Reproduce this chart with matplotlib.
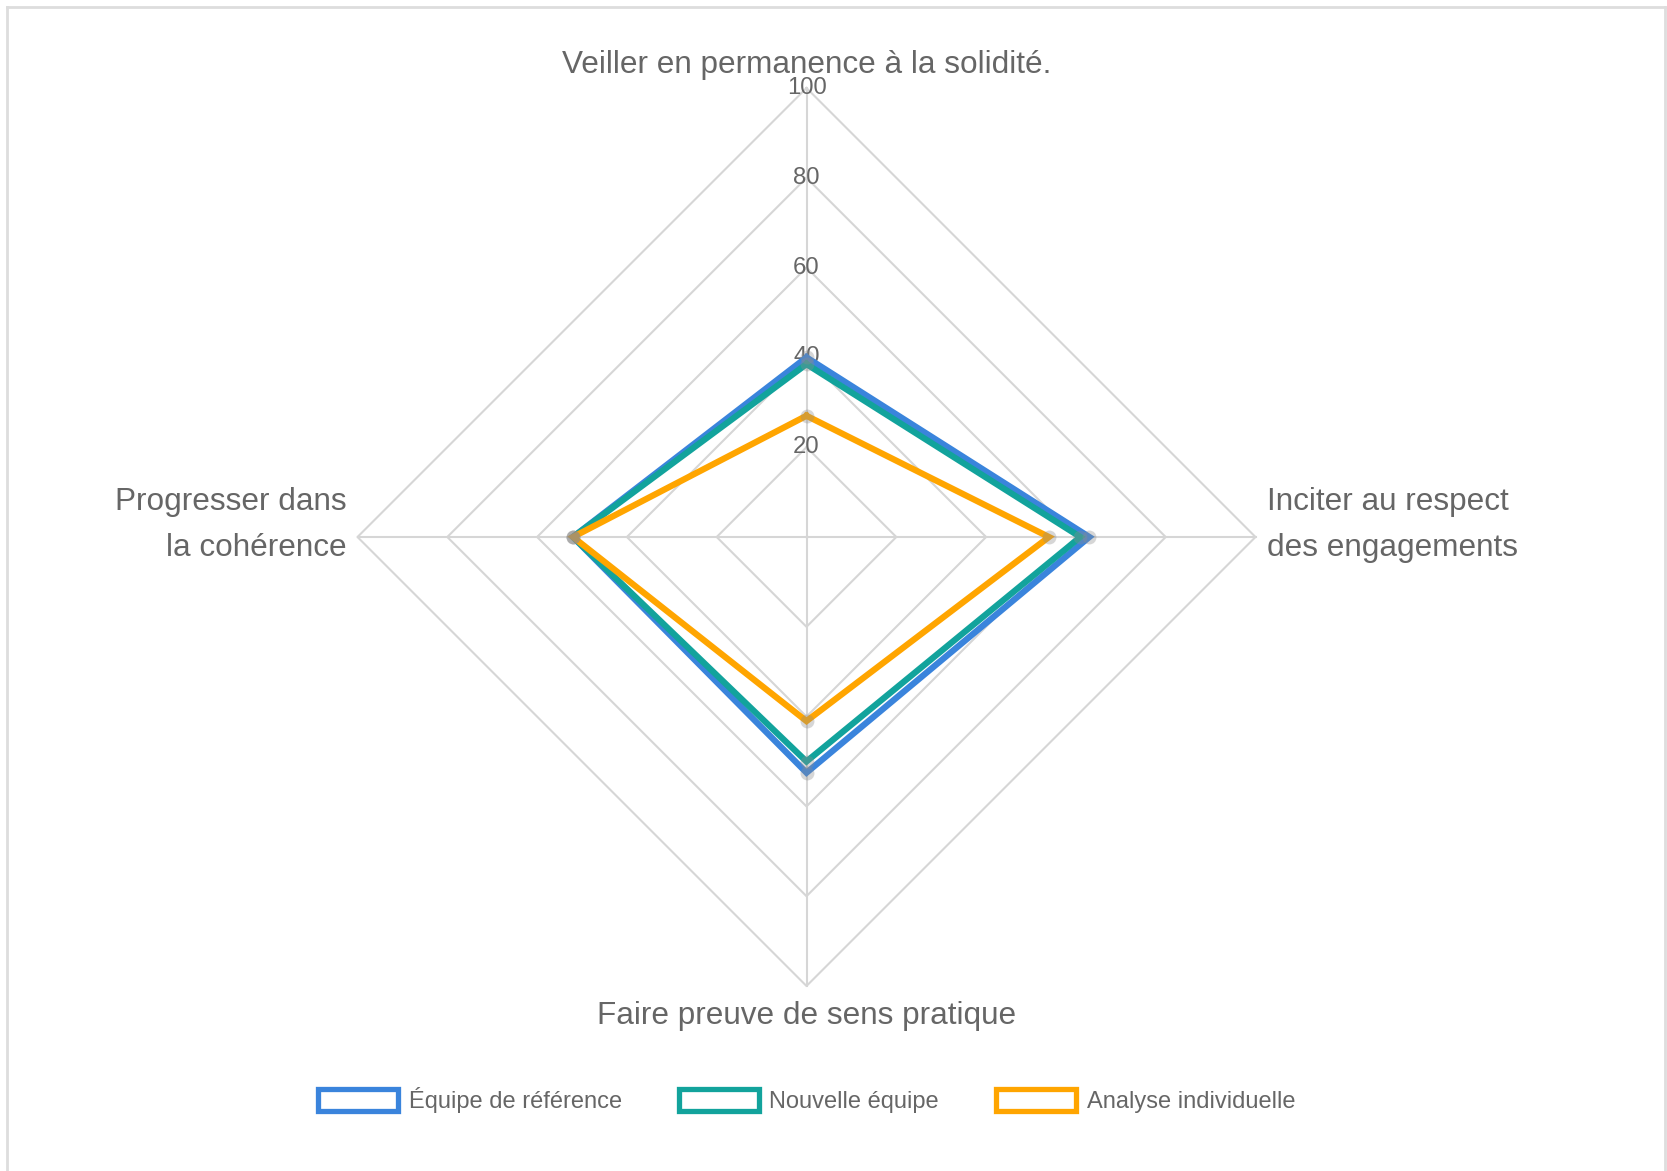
import numpy as np
import matplotlib
matplotlib.use("Agg")
import matplotlib.pyplot as plt
import matplotlib.patches as mpatches
from matplotlib.lines import Line2D

plt.rcParams['font.family'] = ['Liberation Sans', 'DejaVu Sans']

# axes, clockwise from the top
categories = ["Veiller en permanence à la solidité.",
              "Inciter au respect\ndes engagements",
              "Faire preuve de sens pratique",
              "Progresser dans\nla cohérence"]
series_names = ["Équipe de référence", "Nouvelle équipe", "Analyse individuelle"]
reference_team = [40, 63, 52.5, 52]
new_team = [38.5, 61, 50, 52]
individual = [27, 54, 41, 52]
ticks = [20, 40, 60, 80, 100]

colors = ["#3a84dc", "#12a39c", "#ffa500"]
grey_txt = "#666666"
grid_col = "#d6d6d6"

W, H, dpi = 1667, 1171, 100
cx, cy, R = 806.5, 537.0, 449.0  # pixel centre / radius of the 100 ring
k = R / 100.0

fig = plt.figure(figsize=(W / dpi, H / dpi), dpi=dpi)
ax = fig.add_axes([0, 0, 1, 1])
ax.set_xlim(-cx / k, (W - cx) / k)
ax.set_ylim(-(H - cy) / k, cy / k)
ax.axis("off")

angles = np.pi / 2 - np.arange(len(categories)) * 2 * np.pi / len(categories)


def to_xy(vals):
    vals = np.asarray(vals, dtype=float)
    x = vals * np.cos(angles)
    y = vals * np.sin(angles)
    return np.append(x, x[0]), np.append(y, y[0])


# grid rings + spokes
for t in ticks:
    gx, gy = to_xy([t] * len(categories))
    ax.plot(gx, gy, color=grid_col, lw=1.5, zorder=1)
for a in angles:
    ax.plot([0, 100 * np.cos(a)], [0, 100 * np.sin(a)], color=grid_col, lw=1.5, zorder=1)

# tick labels
for t in ticks:
    ax.text(0, t, str(t), ha="center", va="center", fontsize=17.2, color=grey_txt, zorder=2)

# data
for vals, col in zip([reference_team, new_team, individual], colors):
    px, py = to_xy(vals)
    ax.plot(px, py, color=col, lw=4.5, zorder=3, solid_joinstyle="miter")
for vals in [reference_team, new_team, individual]:
    px, py = to_xy(vals)
    ax.plot(px[:-1], py[:-1], "o", ms=10, color=(0.55, 0.55, 0.55, 0.35), mec="none", zorder=4)

# category labels
fs = 22.7
ax.text(0, (cy - 65) / k, categories[0], ha="center", va="center", fontsize=fs, color=grey_txt)
ax.text((1267 - cx) / k, (cy - 525) / k, categories[1], ha="left", va="center",
        fontsize=fs, color=grey_txt, linespacing=1.68)
ax.text(0, (cy - 1016) / k, categories[2], ha="center", va="center", fontsize=fs, color=grey_txt)
ax.text((347 - cx) / k, (cy - 525) / k, categories[3], ha="right", va="center",
        fontsize=fs, color=grey_txt, linespacing=1.68)

# legend
handles = [mpatches.Patch(facecolor="white", edgecolor=c, linewidth=3.8, label=n)
           for c, n in zip(colors, series_names)]
fig.legend(handles=handles, loc="center", bbox_to_anchor=(806.5 / W, 1 - 1100 / H),
           ncol=3, frameon=False, fontsize=17, labelcolor=grey_txt,
           handlelength=3.4, handleheight=1.1, handletextpad=0.45, columnspacing=2.4)

# outer frame
fc = "#dddddd"
fig.add_artist(Line2D([7 / W, 7 / W], [0, 1 - 7 / H], color=fc, lw=2))
fig.add_artist(Line2D([7 / W, 1665 / W], [1 - 7 / H, 1 - 7 / H], color=fc, lw=2))
fig.add_artist(Line2D([1665 / W, 1665 / W], [0, 1 - 7 / H], color=fc, lw=2))

fig.savefig("out.png", dpi=dpi, facecolor="white")
